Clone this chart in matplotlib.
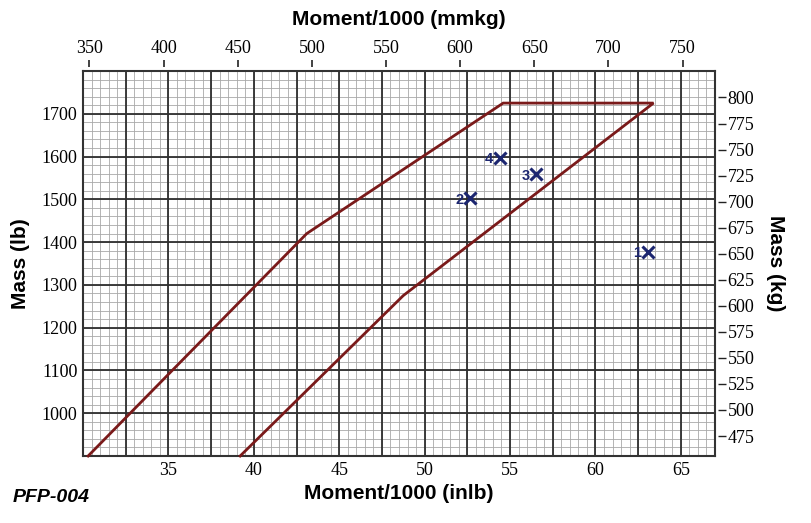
import matplotlib
matplotlib.use("Agg")
import matplotlib.pyplot as plt
import numpy as np

# ---- data ----
env_moment = [30.3, 43.1, 54.6, 63.4, 48.75, 39.2]   # inlb/1000
env_mass = [900, 1420, 1725, 1725, 1275, 900]          # lb

pt_moment = [63.1, 52.67, 56.54, 54.43]
pt_mass = [1377, 1503, 1559, 1597]
pt_labels = ["1", "2", "3", "4"]

bottom_ticks = [35, 40, 45, 50, 55, 60, 65]
left_ticks = [1000, 1100, 1200, 1300, 1400, 1500, 1600, 1700]
top_ticks = [350, 400, 450, 500, 550, 600, 650, 700, 750]
right_ticks = [475, 500, 525, 550, 575, 600, 625, 650, 675, 700, 725, 750, 775, 800]

XLIM = (30, 67)
YLIM = (900, 1800)
KGLIM = (455.8, 825.4)
INLB_TO_MMKG = 11.5212

SERIF = "Liberation Serif"
SANS = "Liberation Sans"
LINE_RED = "#7a1a1a"
NAVY = "#1c2670"
TICK_FS = 13

fig = plt.figure(figsize=(8.12, 5.23), dpi=100)
ax = fig.add_axes([83/812, 1-456/523, (715-83)/812, (456-71)/523])
ax.set_xlim(*XLIM)
ax.set_ylim(*YLIM)

# grid: minor first, majors on top
xt = ax.get_xaxis_transform()
yt = ax.get_yaxis_transform()
x_minor = np.arange(30.5, 67, 0.5)
y_minor = np.arange(920, 1800, 20)
x_major = np.arange(32.5, 67, 2.5)
y_major = np.arange(1000, 1800, 100)
ax.vlines(x_minor, 0, 1, transform=xt, color="#a8a8a8", lw=0.6, zorder=0.6)
ax.hlines(y_minor, 0, 1, transform=yt, color="#a8a8a8", lw=0.6, zorder=0.6)
ax.vlines(x_major, 0, 1, transform=xt, color="#2e2e2e", lw=1.3, zorder=0.7)
ax.hlines(y_major, 0, 1, transform=yt, color="#2e2e2e", lw=1.3, zorder=0.7)

ax.set_xticks(bottom_ticks)
ax.set_xticklabels([str(v) for v in bottom_ticks])
ax.set_yticks(left_ticks)
ax.set_yticklabels([str(v) for v in left_ticks])
ax.tick_params(which="both", length=0)
ax.tick_params(axis="x", pad=4, labelsize=TICK_FS)
ax.tick_params(axis="y", pad=4, labelsize=TICK_FS)
for lab in ax.get_xticklabels() + ax.get_yticklabels():
    lab.set_family(SERIF)
for s in ax.spines.values():
    s.set_color("#333333")
    s.set_linewidth(1.5)

# envelope
ax.plot(env_moment, env_mass, color=LINE_RED, lw=2, solid_joinstyle="miter", zorder=3, clip_on=False)

# points
ax.plot(pt_moment, pt_mass, ls="none", marker="x", ms=9, mew=2.2, color=NAVY, zorder=4)
for x, y, t in zip(pt_moment, pt_mass, pt_labels):
    ax.annotate(t, (x, y), xytext=(-5, 0), textcoords="offset points", ha="right",
                va="center_baseline", fontsize=10.5, fontweight="bold", color=NAVY,
                family=SANS, zorder=5)

ax.set_xlabel("Moment/1000 (inlb)", fontsize=15, fontweight="bold", family=SANS, labelpad=4)
ax.set_ylabel("Mass (lb)", fontsize=15, fontweight="bold", family=SANS, labelpad=8)

# top axis (mmkg)
axt = ax.twiny()
axt.set_xlim(XLIM[0]*INLB_TO_MMKG, XLIM[1]*INLB_TO_MMKG)
axt.set_xticks(top_ticks)
axt.set_xticklabels([str(v) for v in top_ticks])
for s in axt.spines.values():
    s.set_visible(False)
axt.spines["top"].set_position(("outward", 3))
axt.tick_params(axis="x", direction="out", length=5, width=1.2, color="#222222", pad=2, labelsize=TICK_FS)
for lab in axt.get_xticklabels():
    lab.set_family(SERIF)
axt.set_xlabel("Moment/1000 (mmkg)", fontsize=15, fontweight="bold", family=SANS, labelpad=11)

# right axis (kg)
axr = ax.twinx()
axr.set_ylim(*KGLIM)
axr.set_yticks(right_ticks)
axr.set_yticklabels([str(v) for v in right_ticks])
for s in axr.spines.values():
    s.set_visible(False)
axr.spines["right"].set_position(("outward", 2))
axr.tick_params(axis="y", direction="out", length=6, width=1.0, color="#222222", pad=1, labelsize=TICK_FS)
for lab in axr.get_yticklabels():
    lab.set_family(SERIF)
axr.set_ylabel("Mass (kg)", fontsize=15, fontweight="bold", family=SANS, rotation=270, labelpad=22)

fig.text(13/812, 1-497/523, "PFP-004", fontsize=14, fontweight="bold", style="italic",
         family=SANS, ha="left", va="center")

fig.savefig("out.png", dpi=100)
